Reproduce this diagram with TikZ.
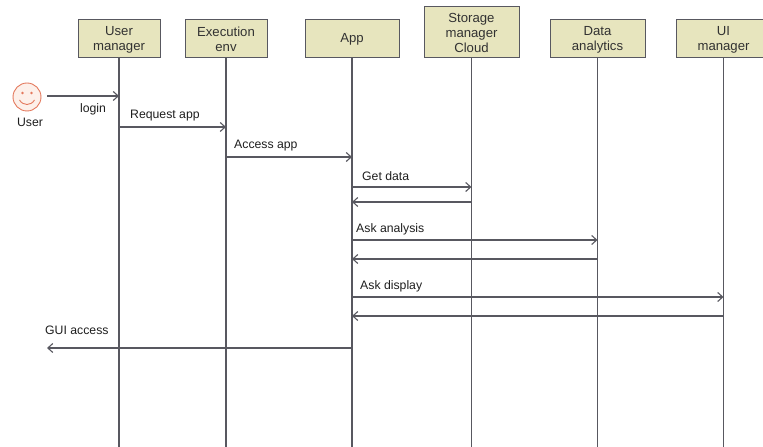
\documentclass[tikz,border=0pt]{standalone}
\usepackage{fontspec}
\setmainfont{Liberation Sans}
\usetikzlibrary{arrows.meta}
\definecolor{boxfill}{RGB}{231,229,190}
\definecolor{linegray}{RGB}{88,88,96}
\definecolor{facered}{RGB}{228,120,92}
\definecolor{facefill}{RGB}{253,240,234}
\definecolor{txt}{RGB}{30,30,30}
\definecolor{boxtxt}{RGB}{50,50,50}
\begin{document}
\begin{tikzpicture}[x=1bp,y=-1bp,
  every node/.style={font=\fontsize{12.3}{15}\selectfont, text=txt},
  lifebox/.style={draw=linegray, line width=0.9bp, fill=boxfill, inner sep=0pt},
  boxlabel/.style={align=center, inner sep=0pt, text=boxtxt, font=\fontsize{13.2}{15.2}\selectfont},
  lifeline/.style={draw=linegray, line width=1.1bp},
  msg/.style={draw=linegray, line width=1.1bp, -{Straight Barb[length=5bp,width=9bp,line width=1.1bp]}},
  lbl/.style={anchor=west, inner sep=0pt}]
\useasboundingbox (0,0) rectangle (763,447);
% boxes
\node[lifebox, minimum width=82bp, minimum height=38bp] (um) at (119,38) {};
\node[lifebox, minimum width=82bp, minimum height=38bp] (ee) at (226,38) {};
\node[lifebox, minimum width=94bp, minimum height=38bp] (app) at (352,38) {};
\node[lifebox, minimum width=95bp, minimum height=51bp] (st) at (471.5,31.5) {};
\node[lifebox, minimum width=95bp, minimum height=38bp] (da) at (597.5,38) {};
\node[lifebox, minimum width=95bp, minimum height=38bp] (ui) at (723.5,38) {};
\node[boxlabel] (umt) at ([yshift=-1.5bp]um.center) {User\\manager};
\node[boxlabel] (eet) at ([yshift=-1.5bp]ee.center) {Execution\\env};
\node[boxlabel] (appt) at ([yshift=-1.5bp]app.center) {App};
\node[boxlabel] (stt) at ([yshift=-1.2bp]st.center) {Storage\\manager\\Cloud};
\node[boxlabel] (dat) at ([yshift=-1.5bp]da.center) {Data\\analytics};
\node[boxlabel] (uit) at ([yshift=-1.5bp]ui.center) {UI\\manager};
% lifelines
\foreach \n in {um,ee,app,st,da,ui}{
  \coordinate (\n end) at (\n.south |- 0,447);
  \draw[lifeline] (\n.south) -- (\n end);
}
% actor
\node[circle, draw=facered, fill=facefill, line width=0.9bp, minimum size=28bp, inner sep=0pt] (user) at (27,97) {};
\fill[facered] (22.5,93) circle (1.3bp) (31.5,93) circle (1.3bp);
\draw[facered, line width=0.9bp] (19.5,100) .. controls (23,106) and (31,106) .. (34.5,100);
\node (userlbl) at (30,122) {User};
% messages
\coordinate (ustart) at (47,96);
\draw[msg] (ustart) -- (um.south |- ustart);
\node (l1) at (93,109) {login};
\draw[msg] (um.south |- 0,127) -- (ee.south |- 0,127);
\node[lbl] (l2) at (130,116) {Request app};
\draw[msg] (ee.south |- 0,157) -- (app.south |- 0,157);
\node[lbl] (l3) at (234,146) {Access app};
\draw[msg] (app.south |- 0,187) -- (st.south |- 0,187);
\node[lbl] (l4) at (362,176) {Get data};
\draw[msg] (st.south |- 0,202) -- (app.south |- 0,202);
\draw[msg] (app.south |- 0,240) -- (da.south |- 0,240);
\node[lbl] (l5) at (356,229) {Ask analysis};
\draw[msg] (da.south |- 0,259) -- (app.south |- 0,259);
\draw[msg] (app.south |- 0,297) -- (ui.south |- 0,297);
\node[lbl] (l6) at (360,286) {Ask display};
\draw[msg] (ui.south |- 0,316) -- (app.south |- 0,316);
\coordinate (gend) at (47,348);
\draw[msg] (app.south |- gend) -- (gend);
\node[lbl] (l7) at (45,330) {GUI access};
\end{tikzpicture}
\end{document}
